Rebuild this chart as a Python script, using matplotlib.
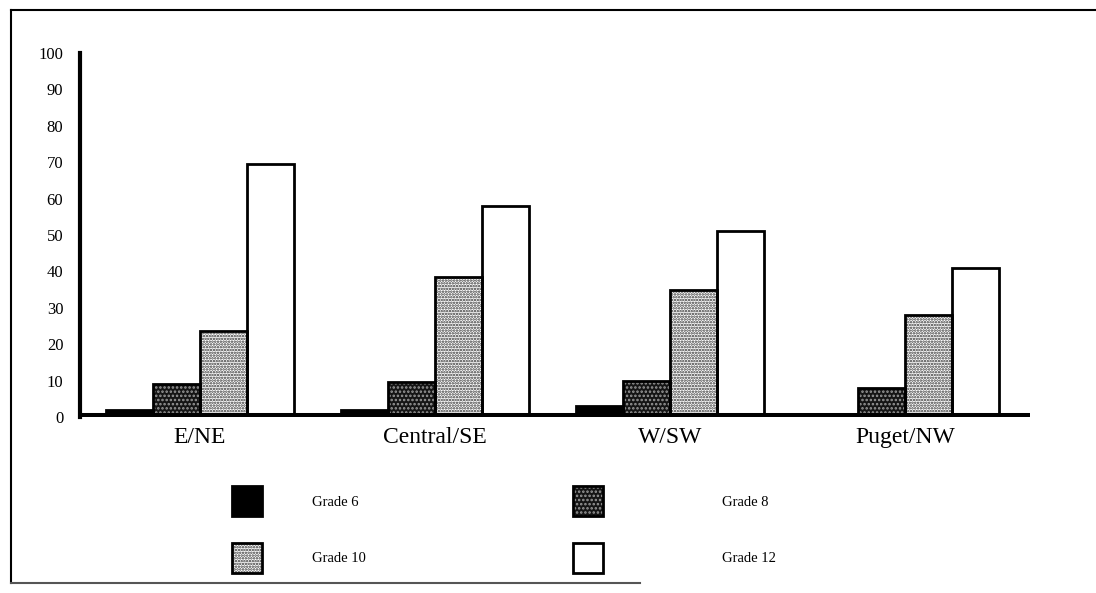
import matplotlib
matplotlib.use("Agg")
import matplotlib.pyplot as plt
import numpy as np
from matplotlib.patches import Rectangle
from matplotlib.lines import Line2D

regions = ["E/NE", "Central/SE", "W/SW", "Puget/NW"]
grades = ["Grade 6", "Grade 8", "Grade 10", "Grade 12"]
grade6 = [2, 2, 3, 0.5]
grade8 = [9, 9.5, 10, 8]
grade10 = [23.5, 38.5, 35, 28]
grade12 = [69.5, 58, 51, 41]
yticks = [0, 10, 20, 30, 40, 50, 60, 70, 80, 90, 100]

W, H = 1096, 593
fig = plt.figure(figsize=(W / 100, H / 100), dpi=100)
plt.rcParams['font.family'] = ['Liberation Serif', 'DejaVu Serif']
plt.rcParams['hatch.linewidth'] = 1.2

def fx(px):
    return px / W

def fy(py):
    return 1 - py / H

ax = fig.add_axes([fx(80), fy(417), fx(1030) - fx(80), fy(53) - fy(417)])
ax.set_ylim(0, 100)
ax.set_xlim(-0.51, 3.53)

x = np.arange(len(regions))
bw = 0.2
styles = [
    dict(facecolor="black", hatch=None, hc="black"),
    dict(facecolor="#151515", hatch="....", hc="#9a9a9a"),
    dict(facecolor="white", hatch="......", hc="#333333"),
    dict(facecolor="white", hatch=None, hc="black"),
]
series = [grade6, grade8, grade10, grade12]
for i, (vals, st) in enumerate(zip(series, styles)):
    pos = x + (i - 1.5) * bw
    ax.bar(pos, vals, width=bw, color=st["facecolor"], hatch=st["hatch"],
           edgecolor=st["hc"], linewidth=0, zorder=2)
    ax.bar(pos, vals, width=bw, facecolor="none", edgecolor="black",
           linewidth=2.0, zorder=3)

ax.axhline(0, color="black", linewidth=6.5, zorder=4, solid_capstyle="round")
for s in ["top", "right", "bottom"]:
    ax.spines[s].set_visible(False)
ax.spines["left"].set_linewidth(3)
ax.set_yticks(yticks)
ax.set_yticklabels([str(t) for t in yticks], fontsize=12)
ax.tick_params(axis="y", length=0, pad=12)
ax.set_xticks(x)
ax.set_xticklabels(regions, fontsize=17)
ax.tick_params(axis="x", length=0, pad=7)
ax.set_facecolor("none")

# legend (manual)
leg_pos = [(232, 486, 312, 503), (573, 486, 722, 503),
           (232, 543, 312, 558), (573, 543, 722, 558)]
for (px, py, tx, ty), st, g in zip(leg_pos, styles, grades):
    r = Rectangle((fx(px), fy(py + 30)), fx(30), 30 / H, transform=fig.transFigure,
                  facecolor=st["facecolor"], hatch=st["hatch"], edgecolor=st["hc"],
                  linewidth=0)
    fig.add_artist(r)
    r2 = Rectangle((fx(px), fy(py + 30)), fx(30), 30 / H, transform=fig.transFigure,
                   facecolor="none", edgecolor="black", linewidth=2)
    fig.add_artist(r2)
    fig.text(fx(tx), fy(ty), g, fontsize=10.5, va="center", ha="left")

# outer frame
fig.add_artist(Line2D([fx(11), fx(1096)], [fy(10), fy(10)], color="black", lw=1.5,
                      transform=fig.transFigure))
fig.add_artist(Line2D([fx(11), fx(11)], [fy(10), fy(583)], color="black", lw=1.5,
                      transform=fig.transFigure))
fig.add_artist(Line2D([fx(11), fx(640)], [fy(583), fy(583)], color="#555555", lw=1.5,
                      transform=fig.transFigure))

fig.savefig("out.png", dpi=100)
